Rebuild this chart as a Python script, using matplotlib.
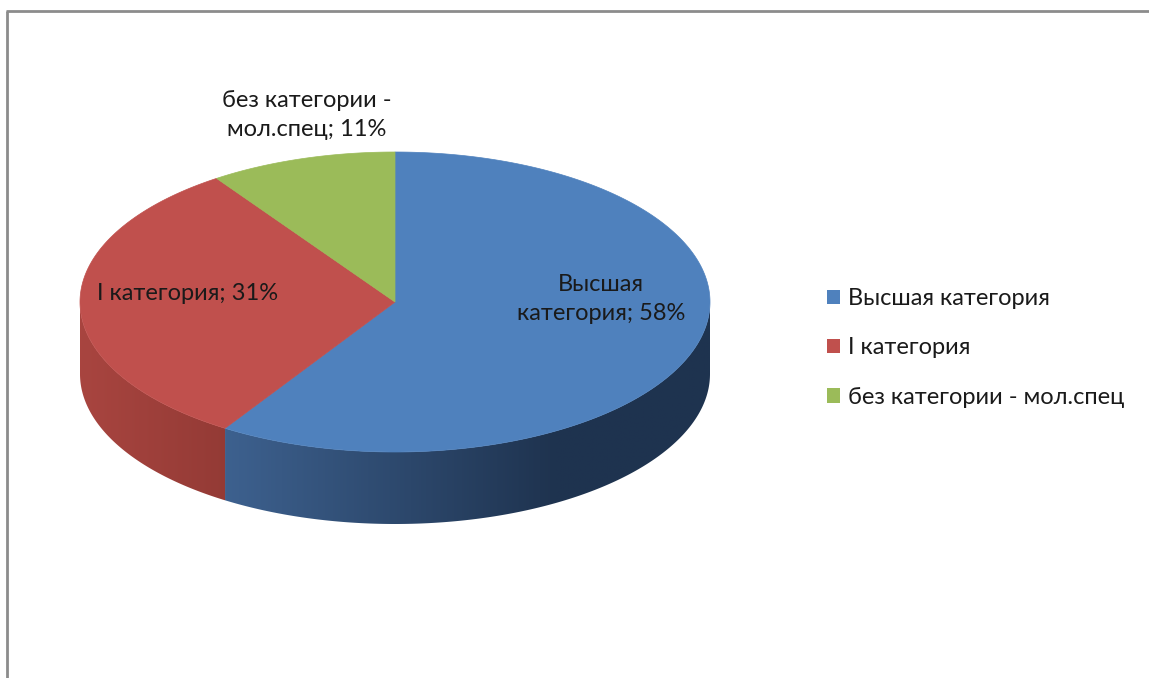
import numpy as np
import matplotlib.pyplot as plt
from matplotlib.patches import Polygon, Patch

plt.rcParams['font.family'] = ['Lato', 'DejaVu Sans']

# данные
categories = ['Высшая категория', 'I категория', 'без категории - мол.спец']
shares = [58, 31, 11]
data_labels = ['Высшая\nкатегория; 58%', 'I категория; 31%', 'без категории -\nмол.спец; 11%']

top_colors = ['#4F81BD', '#C0504D', '#9BBB59']
# цвет боковой стенки: слева -> справа
side_colors = [((0.24, 0.38, 0.56), (0.12, 0.20, 0.31)),
               ((0.66, 0.27, 0.25), (0.58, 0.23, 0.21)),
               ((0.50, 0.62, 0.28), (0.40, 0.50, 0.22))]
label_pos = [(601, 299), (188, 293), (307, 115)]

# геометрия "3D" пирога в пикселях
cx, cy = 395, 302
rx, ry = 315, 150
depth = 72
persp = 8  # искажение углов (перспектива), градусы

W, H = 1149, 678
fig = plt.figure(figsize=(W / 100, H / 100), dpi=100)
ax = fig.add_axes([0, 0, 1, 1])
ax.set_xlim(0, W)
ax.set_ylim(H, 0)
ax.axis('off')


def ell(t, dy=0):
    t = np.radians(t)
    return cx + rx * np.cos(t), cy - ry * np.sin(t) + dy


def warp(t):
    return t + persp * np.cos(np.radians(t))


fracs = np.array(shares) / np.sum(shares)
starts = warp(90 - 360 * np.concatenate([[0], np.cumsum(fracs)[:-1]]))
ends = warp(90 - 360 * np.cumsum(fracs))

# боковые стенки (видна только передняя половина: t в [-180, 0])
for i in range(len(shares)):
    a0 = min(starts[i], 0)
    a1 = max(ends[i], -180)
    if a0 <= a1:
        continue
    t = np.linspace(a0, a1, 200)
    xt, yt = ell(t)
    xb, yb = ell(t[::-1], depth)
    poly = Polygon(np.column_stack([np.r_[xt, xb], np.r_[yt, yb]]),
                   closed=True, facecolor='none', edgecolor='none')
    ax.add_patch(poly)
    x_lo, x_hi = xt.min(), xt.max()
    span = min(x_hi - x_lo, 330)
    xs = np.linspace(x_lo, x_hi, 300)
    k = np.clip((xs - x_lo) / span, 0, 1)
    c0, c1 = np.array(side_colors[i][0]), np.array(side_colors[i][1])
    grad = c0[None, :] * (1 - k[:, None]) + c1[None, :] * k[:, None]
    img = ax.imshow(grad[None, :, :], extent=[x_lo, x_hi, yb.max() + 2, yt.min() - 2],
                    aspect='auto', interpolation='bilinear', zorder=1)
    img.set_clip_path(poly)

# верхняя грань
for i in range(len(shares)):
    t = np.linspace(starts[i], ends[i], 300)
    xt, yt = ell(t)
    pts = np.column_stack([np.r_[cx, xt], np.r_[cy, yt]])
    ax.add_patch(Polygon(pts, closed=True, facecolor=top_colors[i],
                         edgecolor=top_colors[i], linewidth=0.5, zorder=2))

# подписи данных
for lab, (x, y) in zip(data_labels, label_pos):
    ax.text(x, y, lab, ha='center', va='center', fontsize=17,
            color='#1a1a1a', linespacing=1.45, zorder=3)

# легенда
handles = [Patch(facecolor=c, edgecolor='none') for c in top_colors]
ax.legend(handles, categories, loc='center left',
          bbox_to_anchor=(827 / W, 1 - 348 / H), frameon=False,
          fontsize=17, handlelength=0.55, handleheight=0.55,
          handletextpad=0.35, labelspacing=1.2, labelcolor='#1a1a1a',
          borderpad=0, borderaxespad=0)

# рамка
ax.plot([7, 7], [H, 11], color='#8c8c8c', lw=2, solid_capstyle='butt')
ax.plot([6, W], [11, 11], color='#8c8c8c', lw=2, solid_capstyle='butt')

fig.savefig('out.png', dpi=100)
